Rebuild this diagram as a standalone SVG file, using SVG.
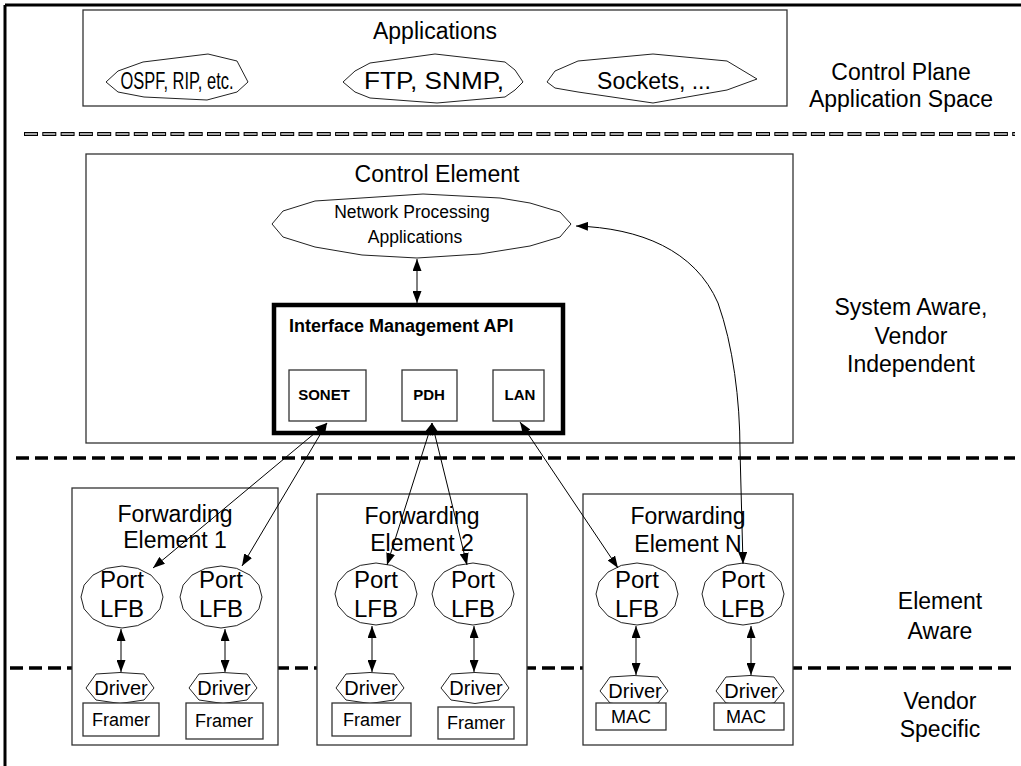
<svg xmlns="http://www.w3.org/2000/svg" width="1021" height="766" viewBox="0 0 1021 766">
  <defs>
    <style>
      text { font-family: "Liberation Sans", Arial, sans-serif; fill: #000; }
      .box { fill: #fff; stroke: #333; stroke-width: 1.3; }
      .shape { fill: #fff; stroke: #222; stroke-width: 1; }
      .big { font-size: 23px; }
      .mid { font-size: 18px; }
      .drv { font-size: 20px; }
      .c { text-anchor: middle; }
      .b { font-weight: bold; }
      .link { fill: none; stroke: #000; stroke-width: 1; marker-start: url(#arrow); marker-end: url(#arrow); }
      .sep { stroke: #000; stroke-width: 3.5; stroke-dasharray: 13 6; }
    </style>
    <marker id="arrow" viewBox="0 0 12 9" refX="12" refY="4.5" markerWidth="12" markerHeight="9" markerUnits="userSpaceOnUse" orient="auto-start-reverse">
      <path d="M0,0 L12,4.5 L0,9 z" fill="#000"/>
    </marker>
    <polygon id="lfbShape" class="shape" points="41,0 37.9,11.9 29,21.9 15.7,28.6 0,31 -15.7,28.6 -29,21.9 -37.9,11.9 -41,0 -37.9,-11.9 -29,-21.9 -15.7,-28.6 0,-31 15.7,-28.6 29,-21.9 37.9,-11.9"/>
    <polygon id="driverShape" class="shape" points="-34,0 -24,-14 0,-15.5 24,-14 34,0 24,12 0,15.5 -24,12"/>
  </defs>

  <rect width="1021" height="766" fill="#fff"/>

  <!-- frame edges -->
  <g id="frame" stroke="#000" stroke-width="3">
    <line x1="5" y1="5" x2="1021" y2="5"/>
    <line x1="5" y1="5" x2="5" y2="766"/>
  </g>

  <!-- layer separators -->
  <g id="separators">
    <line x1="24" y1="134" x2="1015" y2="134" stroke="#000" stroke-width="4" stroke-dasharray="14 4.3"/>
    <line x1="25" y1="134" x2="1015" y2="134" stroke="#ddd" stroke-width="1.6" stroke-dasharray="12 6.3"/>
    <line class="sep" x1="16" y1="458" x2="1015" y2="458"/>
    <line class="sep" x1="10" y1="668" x2="1015" y2="668"/>
  </g>

  <!-- application space -->
  <g id="applications">
    <rect class="box" x="83" y="10" width="704" height="96"/>
    <text class="big c" x="435" y="39">Applications</text>
  </g>
  <g id="app-ospf">
    <polygon class="shape" points="106,82 118,71 143,62 208,54 237,61 248,82 237,92 207,100 144,97 118,92"/>
    <text class="c" x="177" y="89" font-size="23" textLength="113" lengthAdjust="spacingAndGlyphs">OSPF, RIP, etc.</text>
  </g>
  <g id="app-ftp">
    <polygon class="shape" points="343,82 355,71 370,63 435,54 505,62 515,70 523,82 515,90 505,97 437,103 370,98 355,92"/>
    <text class="c" x="434" y="89" font-size="24" textLength="140" lengthAdjust="spacingAndGlyphs">FTP, SNMP,</text>
  </g>
  <g id="app-sockets">
    <polygon class="shape" points="547,82 555,71 578,61 653,54 727,61 757,79 727,90 653,103 578,92 555,88"/>
    <text class="big c" x="654" y="89">Sockets, ...</text>
  </g>

  <!-- control element -->
  <g id="control-element">
    <rect class="box" x="86" y="154" width="707" height="289"/>
    <text class="big c" x="437" y="182">Control Element</text>
  </g>
  <g id="np-apps">
    <polygon class="shape" points="272,224 283,211 315,201 423,194 500,198 530,203 560,212 571,224 560,237 530,246 480,254 417,258 362,255 315,247 283,237"/>
    <text class="c" x="412" y="218" font-size="17.5">Network Processing</text>
    <text class="c" x="415" y="243" font-size="17.5">Applications</text>
  </g>
  <g id="if-mgmt-api">
    <rect x="274" y="305" width="289" height="128" fill="#fff" stroke="#000" stroke-width="4.5"/>
    <text class="b" x="289" y="332" font-size="18">Interface Management API</text>
  </g>
  <g id="sonet">
    <rect class="box" x="289" y="370" width="77" height="51"/>
    <text class="b c" x="324" y="400" font-size="15">SONET</text>
  </g>
  <g id="pdh">
    <rect class="box" x="402" y="370" width="55" height="51"/>
    <text class="b c" x="429" y="400" font-size="15">PDH</text>
  </g>
  <g id="lan">
    <rect class="box" x="493" y="370" width="51" height="51"/>
    <text class="b c" x="520" y="400" font-size="15">LAN</text>
  </g>

  <!-- forwarding elements -->
  <g id="fe-1">
    <rect class="box" x="72" y="488" width="206" height="257"/>
    <text class="big c" x="175" y="522">Forwarding</text>
    <text class="big c" x="175" y="548">Element 1</text>
  </g>
  <g id="fe-2">
    <rect class="box" x="317" y="494" width="210" height="251"/>
    <text class="big c" x="422" y="524">Forwarding</text>
    <text class="big c" x="422" y="551">Element 2</text>
  </g>
  <g id="fe-n">
    <rect class="box" x="583" y="494" width="210" height="251"/>
    <text class="big c" x="688" y="524">Forwarding</text>
    <text class="big c" x="688" y="552">Element N</text>
  </g>

  <!-- port logical function blocks -->
  <g id="fe1-port-a"><use href="#lfbShape" x="122" y="597"/><text class="c" x="122" y="588" font-size="24">Port</text><text class="c" x="122" y="617" font-size="24">LFB</text></g>
  <g id="fe1-port-b"><use href="#lfbShape" x="221" y="597"/><text class="c" x="221" y="588" font-size="24">Port</text><text class="c" x="221" y="617" font-size="24">LFB</text></g>
  <g id="fe2-port-a"><use href="#lfbShape" x="376" y="594"/><text class="c" x="376" y="588" font-size="24">Port</text><text class="c" x="376" y="617" font-size="24">LFB</text></g>
  <g id="fe2-port-b"><use href="#lfbShape" x="473" y="594"/><text class="c" x="473" y="588" font-size="24">Port</text><text class="c" x="473" y="617" font-size="24">LFB</text></g>
  <g id="fen-port-a"><use href="#lfbShape" x="637" y="594"/><text class="c" x="637" y="588" font-size="24">Port</text><text class="c" x="637" y="617" font-size="24">LFB</text></g>
  <g id="fen-port-b"><use href="#lfbShape" x="743" y="594"/><text class="c" x="743" y="588" font-size="24">Port</text><text class="c" x="743" y="617" font-size="24">LFB</text></g>

  <!-- drivers -->
  <g id="fe1-driver-a"><use href="#driverShape" x="120" y="688"/><text class="drv c" x="121" y="695">Driver</text></g>
  <g id="fe1-driver-b"><use href="#driverShape" x="223" y="688"/><text class="drv c" x="224" y="695">Driver</text></g>
  <g id="fe2-driver-a"><use href="#driverShape" x="370" y="688"/><text class="drv c" x="371" y="695">Driver</text></g>
  <g id="fe2-driver-b"><use href="#driverShape" x="475" y="688"/><text class="drv c" x="476" y="695">Driver</text></g>
  <g id="fen-driver-a"><use href="#driverShape" x="634" y="691"/><text class="drv c" x="635" y="698">Driver</text></g>
  <g id="fen-driver-b"><use href="#driverShape" x="750" y="691"/><text class="drv c" x="751" y="698">Driver</text></g>

  <!-- hardware blocks -->
  <g id="fe1-framer-a"><rect class="box" x="83" y="703" width="76" height="33"/><text class="mid c" x="121" y="726">Framer</text></g>
  <g id="fe1-framer-b"><rect class="box" x="186" y="703" width="77" height="36"/><text class="mid c" x="224" y="727">Framer</text></g>
  <g id="fe2-framer-a"><rect class="box" x="332" y="703" width="79" height="33"/><text class="mid c" x="372" y="726">Framer</text></g>
  <g id="fe2-framer-b"><rect class="box" x="438" y="707" width="76" height="32"/><text class="mid c" x="476" y="729">Framer</text></g>
  <g id="fen-mac-a"><rect class="box" x="596" y="703" width="70" height="27"/><text class="mid c" x="631" y="723">MAC</text></g>
  <g id="fen-mac-b"><rect class="box" x="714" y="703" width="70" height="27"/><text class="mid c" x="746" y="723">MAC</text></g>

  <!-- layer captions -->
  <g id="caption-app-space">
    <text class="big c" x="901" y="80">Control Plane</text>
    <text class="big c" x="901" y="107">Application Space</text>
  </g>
  <g id="caption-system">
    <text class="big c" x="911" y="315">System Aware,</text>
    <text class="big c" x="911" y="344">Vendor</text>
    <text class="big c" x="911" y="372">Independent</text>
  </g>
  <g id="caption-element">
    <text class="big c" x="940" y="609">Element</text>
    <text class="big c" x="940" y="639">Aware</text>
  </g>
  <g id="caption-vendor">
    <text class="big c" x="940" y="709">Vendor</text>
    <text class="big c" x="940" y="737">Specific</text>
  </g>

  <!-- connectors -->
  <g id="connectors">
    <line class="link" x1="417" y1="259" x2="417" y2="303"/>
    <line class="link" x1="327" y1="423" x2="153" y2="568"/>
    <line class="link" x1="327" y1="423" x2="242" y2="566"/>
    <line class="link" x1="432" y1="423" x2="387" y2="565"/>
    <line class="link" x1="432" y1="423" x2="467" y2="565"/>
    <line class="link" x1="520" y1="422" x2="618" y2="568"/>
    <path class="link" d="M576,226 C640,228 695,250 718,303 C733,345 740,400 740,450 L743,564"/>
    <line class="link" x1="121" y1="629" x2="121" y2="672"/>
    <line class="link" x1="225" y1="629" x2="225" y2="672"/>
    <line class="link" x1="372" y1="626" x2="372" y2="672"/>
    <line class="link" x1="474" y1="626" x2="474" y2="672"/>
    <line class="link" x1="636" y1="626" x2="636" y2="675"/>
    <line class="link" x1="751" y1="626" x2="751" y2="675"/>
  </g>
</svg>
